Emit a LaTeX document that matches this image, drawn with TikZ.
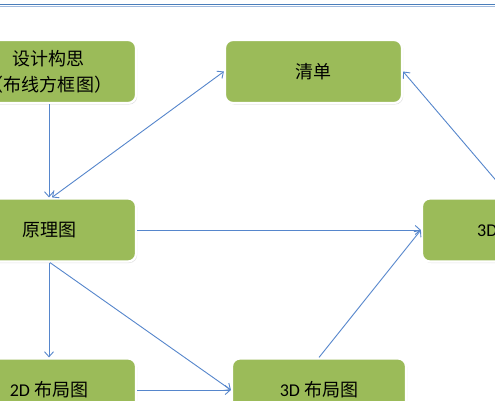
\documentclass[tikz,border=0pt]{standalone}
\usepackage{fontspec}
\setmainfont{Carlito}
\newfontfamily\cjk{Noto Sans CJK SC}
\usetikzlibrary{arrows.meta,shadows}
\definecolor{boxgreen}{RGB}{155,187,89}
\definecolor{linkblue}{RGB}{86,134,204}
\definecolor{rulea}{RGB}{74,126,187}
\definecolor{ruleb}{RGB}{160,186,222}
\tikzset{
  stepbox/.style={rectangle, rounded corners=8pt, fill=boxgreen, draw=white, line width=2.2pt,
    minimum width=174pt, minimum height=63pt, inner sep=0pt, align=center,
    font=\fontsize{18}{26}\selectfont,
    drop shadow={opacity=0.22, shadow xshift=1.2pt, shadow yshift=-1.5pt}},
  link/.style={draw=linkblue, line width=0.9pt, -{Straight Barb[length=5pt,width=9pt]}},
  biglink/.style={draw=linkblue, line width=0.9pt, {Straight Barb[length=5pt,width=9pt]}-{Straight Barb[length=5pt,width=9pt]}}
}
\begin{document}
\begin{tikzpicture}[x=1pt,y=-1pt]
\useasboundingbox (0,0) rectangle (495,400);
\clip (0,0) rectangle (495,400);
\fill[white] (0,0) rectangle (495,400);
% top rule
\draw[rulea, line width=1.6pt] (0,4.6) -- (495,4.6);
\draw[ruleb, line width=0.9pt] (0,6.3) -- (495,6.3);
% boxes
\node[stepbox] (A) at (49,71.5) {{\cjk 设计构思}\\{\cjk （布线方框图）}};
\node[stepbox, minimum width=177pt] (B) at (313.5,71.5) {\cjk 清单};
\node[stepbox] (C) at (49,230) {\cjk 原理图};
\node[stepbox, minimum width=177pt] (D) at (510.5,230) {};
\node[anchor=west, inner sep=0pt, font=\fontsize{18}{26}\selectfont] (Dt) at (477,231) {3D};
\node[stepbox] (E) at (49,390) {2D {\cjk 布局图}};
\node[stepbox] (F) at (319,390) {3D {\cjk 布局图}};
% connectors
\draw[link] (A.south) -- (C.north);
\draw[biglink] (B.west) -- ([xshift=3pt]C.north);
\draw[link] (C.east) -- (D.west);
\draw[link] (D.north) -- (B.east);
\draw[link] (C.south) -- (E.north);
\draw[link] ([xshift=1pt]C.south) -- (F.west);
\draw[link] (E.east) -- (F.west);
\draw[link] (F.north) -- (D.west);
\end{tikzpicture}
\end{document}
